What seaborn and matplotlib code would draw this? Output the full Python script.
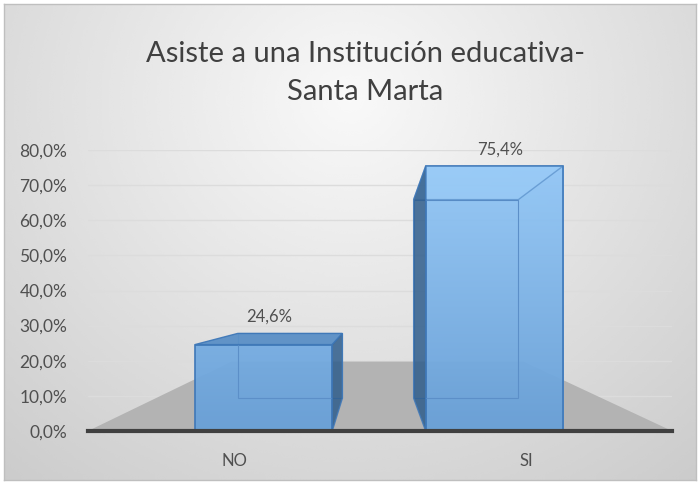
"""
Asiste a una Institucion educativa - Santa Marta (Excel-style 3D column look).
Run: python plot.py  -> out.png
"""
import matplotlib
matplotlib.use("Agg")
import matplotlib.pyplot as plt
from matplotlib.patches import Polygon
from matplotlib.colors import LinearSegmentedColormap
from matplotlib.ticker import FuncFormatter
import seaborn as sns
import numpy as np

categories = ["NO", "SI"]
values = [0.246, 0.754]
value_labels = ["24,6%", "75,4%"]
y_ticks = [0.0, 0.1, 0.2, 0.3, 0.4, 0.5, 0.6, 0.7, 0.8]

TITLE = "Asiste a una Institución educativa-\nSanta Marta"
TEXT_GREY = "#505050"
BAR_BLUE = "#6ea7de"
BAR_EDGE = "#3f78b8"
SIDE_BLUE = "#2f5d8c"

sns.set_theme(style="white")
plt.rcParams["font.family"] = ["Lato", "DejaVu Sans"]

W, H = 700, 484
fig = plt.figure(figsize=(W / 100, H / 100), dpi=100)
fig.patch.set_facecolor("white")

# --- background gradient with thin border ---
bg = fig.add_axes([4 / W, 4 / H, 692 / W, 476 / H], zorder=0)
gx, gy = np.meshgrid(np.linspace(0, 1, 300), np.linspace(0, 1, 200))
r = np.sqrt(((gx - 0.5) / 0.75) ** 2 + ((gy - 0.2) / 1.0) ** 2)
shade = np.clip(0.975 - 0.17 * r, 0, 1)
bg.imshow(shade, cmap="gray", vmin=0, vmax=1, aspect="auto",
          extent=[0, 1, 1, 0], interpolation="bicubic")
bg.set_xlim(0, 1)
bg.set_ylim(1, 0)
bg.set_xticks([])
bg.set_yticks([])
for s in bg.spines.values():
    s.set_color("#bfbfbf")
    s.set_linewidth(1)

# --- main axes: 0% at y=431px, 80% at y=150px, x from 88 to 672 ---
ax = fig.add_axes([88 / W, (H - 431) / H, 584 / W, 281 / H], zorder=1)
ax.patch.set_alpha(0)

sns.barplot(x=categories, y=values, width=0.47, color=BAR_BLUE,
            saturation=1, edgecolor=BAR_EDGE, linewidth=1.2,
            ax=ax, zorder=3)

ax.set_xlim(-0.5, 1.5)
ax.set_ylim(0, 0.8)
ax.set_yticks(y_ticks)
ax.yaxis.set_major_formatter(FuncFormatter(lambda v, _: f"{v * 100:.1f}%".replace(".", ",")))
ax.grid(axis="y", color="#dcdcdc", linewidth=1)
ax.set_axisbelow(True)
ax.tick_params(axis="y", length=0, pad=15, labelsize=12.5, labelcolor=TEXT_GREY)
ax.tick_params(axis="x", length=0, pad=16, labelsize=12, labelcolor=TEXT_GREY)
ax.set_xlabel("")
ax.set_ylabel("")
for name, s in ax.spines.items():
    s.set_visible(name == "bottom")
ax.spines["bottom"].set_color("#404040")
ax.spines["bottom"].set_linewidth(3)
ax.spines["bottom"].set_zorder(6)

# --- perspective helpers (display pixels, converging to a vanishing point) ---
fig.canvas.draw()
to_disp = ax.transData
to_data = ax.transData.inverted()
VP = np.array([375.0, H - 300.0])


def back(pts, kx, ky):
    d = to_disp.transform(pts)
    b = np.column_stack([d[:, 0] + kx * (VP[0] - d[:, 0]),
                         d[:, 1] + ky * (VP[1] - d[:, 1])])
    return to_data.transform(b)


# floor
x0, x1 = ax.get_xlim()
front_floor = np.array([[x0, 0.0], [x1, 0.0]])
back_floor = back(front_floor, 0.5, 0.53)
ax.add_patch(Polygon(np.vstack([front_floor, back_floor[::-1]]),
                     closed=True, facecolor="#b3b3b3", edgecolor="none",
                     zorder=1.5, clip_on=False))

front_cmap = LinearSegmentedColormap.from_list("front", ["#68a0d8", "#95c9f8"])

# 3D faces of each bar
for patch, lab in zip(ax.patches[:len(values)], value_labels):
    bw, bh = patch.get_width(), patch.get_height()
    # pull the column toward the vanishing point, as the 3D view does
    c = to_disp.transform([[patch.get_x() + bw / 2, 0]])[0, 0]
    c_new = c + 0.21 * (VP[0] - c)
    bx = to_data.transform([[c_new, 0]])[0, 0] - bw / 2
    patch.set_x(bx)
    by = patch.get_y()
    left_of_vp = c_new < VP[0]

    front = np.array([[bx, by], [bx + bw, by], [bx + bw, by + bh], [bx, by + bh]])
    bk = back(front, 0.237, 0.25)

    # front face gradient over the full plot height (lighter higher up)
    patch.set_facecolor("none")
    grad = np.linspace(0, 1, 200).reshape(-1, 1)
    im = ax.imshow(grad, cmap=front_cmap, aspect="auto", origin="lower",
                   extent=[bx, bx + bw, 0, 0.8], alpha=0.95, zorder=2.9)
    im.set_clip_path(patch)

    # back face
    ax.add_patch(Polygon(bk, closed=True, facecolor="none",
                         edgecolor="#5c8fc8", linewidth=0.8, zorder=3.2))
    # top face
    if bk[3, 1] > front[3, 1]:
        top_fc, top_alpha = "#5a8fc6", 0.95
    else:
        top_fc, top_alpha = "#9ccdf8", 0.5
    ax.add_patch(Polygon([front[3], front[2], bk[2], bk[3]], closed=True,
                         facecolor=top_fc, alpha=top_alpha, edgecolor=BAR_EDGE,
                         linewidth=1, zorder=3.5))
    # side face
    side = [front[1], front[2], bk[2], bk[1]] if left_of_vp else [front[0], front[3], bk[3], bk[0]]
    ax.add_patch(Polygon(side, closed=True, facecolor=SIDE_BLUE, alpha=0.85,
                         edgecolor=BAR_EDGE, linewidth=1, zorder=3.5))

    top_y = max(front[3, 1], bk[3, 1])
    ax.annotate(lab, xy=(bx + bw / 2 + 0.02, top_y), xytext=(0, 6), textcoords="offset points",
                ha="center", va="bottom", fontsize=12, color=TEXT_GREY, zorder=7)

ax.set_xlim(x0, x1)
ax.set_ylim(0, 0.8)

fig.text(365 / W, 1 - 73 / H, TITLE, ha="center", va="center",
         fontsize=21, color="#404040", linespacing=1.6)

fig.savefig("out.png", dpi=100)
